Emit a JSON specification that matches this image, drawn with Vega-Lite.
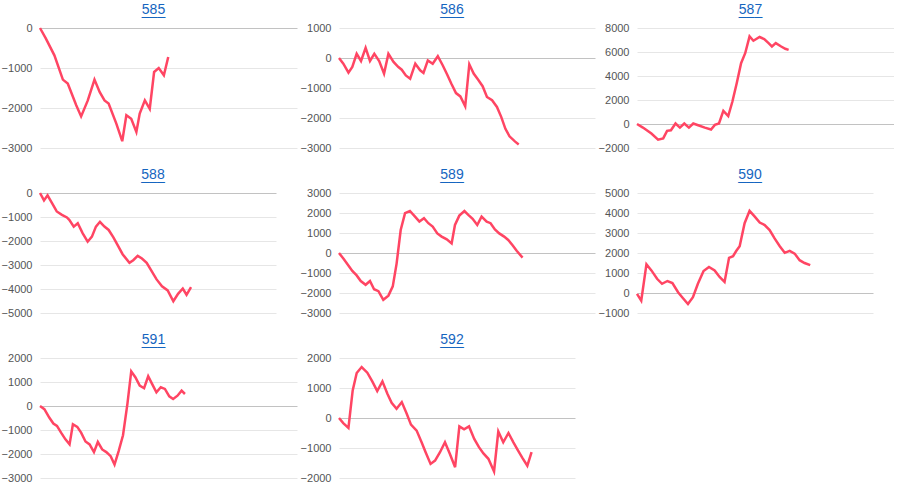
{
"$schema": "https://vega.github.io/schema/vega-lite/v6.json",
"padding": {"left": 1, "top": 3, "right": 0, "bottom": 0},
"background": "#ffffff",
"data": {"values": [
{"p":"585","t":0,"v":0},{"p":"585","t":2.3,"v":-267},{"p":"585","t":5.6,"v":-683},{"p":"585","t":8.9,"v":-1290},{"p":"585","t":10.8,"v":-1390},{"p":"585","t":14.1,"v":-1930},{"p":"585","t":16.0,"v":-2210},{"p":"585","t":18.6,"v":-1810},{"p":"585","t":21.2,"v":-1290},{"p":"585","t":23.2,"v":-1600},{"p":"585","t":25.1,"v":-1810},{"p":"585","t":26.7,"v":-1890},{"p":"585","t":29.7,"v":-2390},{"p":"585","t":32.0,"v":-2830},{"p":"585","t":33.6,"v":-2180},{"p":"585","t":35.5,"v":-2270},{"p":"585","t":37.5,"v":-2600},{"p":"585","t":38.8,"v":-2140},{"p":"585","t":40.8,"v":-1810},{"p":"585","t":42.7,"v":-2020},{"p":"585","t":44.4,"v":-1100},{"p":"585","t":46.2,"v":-1000},{"p":"585","t":48.2,"v":-1180},{"p":"585","t":49.9,"v":-725},
{"p":"586","t":0,"v":0},{"p":"586","t":1.7,"v":-190},{"p":"586","t":3.7,"v":-490},{"p":"586","t":5.2,"v":-300},{"p":"586","t":6.9,"v":140},{"p":"586","t":8.6,"v":-100},{"p":"586","t":10.4,"v":340},{"p":"586","t":12.1,"v":-100},{"p":"586","t":13.8,"v":140},{"p":"586","t":15.7,"v":-100},{"p":"586","t":17.6,"v":-520},{"p":"586","t":19.3,"v":140},{"p":"586","t":21.3,"v":-130},{"p":"586","t":23.2,"v":-300},{"p":"586","t":24.5,"v":-390},{"p":"586","t":26.1,"v":-580},{"p":"586","t":27.8,"v":-690},{"p":"586","t":29.8,"v":-190},{"p":"586","t":31.7,"v":-410},{"p":"586","t":33.0,"v":-500},{"p":"586","t":34.7,"v":-80},{"p":"586","t":36.6,"v":-190},{"p":"586","t":38.6,"v":60},{"p":"586","t":40.5,"v":-240},{"p":"586","t":42.2,"v":-540},{"p":"586","t":43.9,"v":-860},{"p":"586","t":45.7,"v":-1170},{"p":"586","t":47.4,"v":-1280},{"p":"586","t":49.3,"v":-1610},{"p":"586","t":50.9,"v":-210},{"p":"586","t":52.6,"v":-520},{"p":"586","t":54.3,"v":-720},{"p":"586","t":56.1,"v":-940},{"p":"586","t":57.8,"v":-1300},{"p":"586","t":59.8,"v":-1410},{"p":"586","t":61.7,"v":-1630},{"p":"586","t":63.4,"v":-1970},{"p":"586","t":65.0,"v":-2360},{"p":"586","t":66.6,"v":-2610},{"p":"586","t":68.7,"v":-2780},{"p":"586","t":70.2,"v":-2880},
{"p":"587","t":0,"v":0},{"p":"587","t":2.3,"v":-300},{"p":"587","t":5.6,"v":-800},{"p":"587","t":8.2,"v":-1300},{"p":"587","t":10.2,"v":-1200},{"p":"587","t":11.7,"v":-570},{"p":"587","t":13.2,"v":-520},{"p":"587","t":15.0,"v":40},{"p":"587","t":16.7,"v":-300},{"p":"587","t":18.4,"v":40},{"p":"587","t":20.2,"v":-300},{"p":"587","t":21.9,"v":40},{"p":"587","t":23.8,"v":-100},{"p":"587","t":26.4,"v":-300},{"p":"587","t":28.8,"v":-460},{"p":"587","t":30.3,"v":-70},{"p":"587","t":31.9,"v":40},{"p":"587","t":33.6,"v":1100},{"p":"587","t":35.5,"v":660},{"p":"587","t":37.1,"v":1850},{"p":"587","t":38.8,"v":3390},{"p":"587","t":40.5,"v":5070},{"p":"587","t":42.1,"v":5900},{"p":"587","t":43.8,"v":7300},{"p":"587","t":45.3,"v":6940},{"p":"587","t":47.7,"v":7250},{"p":"587","t":49.5,"v":7080},{"p":"587","t":51.2,"v":6740},{"p":"587","t":52.5,"v":6460},{"p":"587","t":54.0,"v":6740},{"p":"587","t":56.1,"v":6460},{"p":"587","t":57.7,"v":6270},{"p":"587","t":59.0,"v":6180},
{"p":"588","t":0,"v":0},{"p":"588","t":1.7,"v":-310},{"p":"588","t":3.2,"v":-100},{"p":"588","t":5.1,"v":-420},{"p":"588","t":7.1,"v":-770},{"p":"588","t":9.3,"v":-910},{"p":"588","t":11.4,"v":-1020},{"p":"588","t":12.4,"v":-1120},{"p":"588","t":14.3,"v":-1400},{"p":"588","t":16.0,"v":-1260},{"p":"588","t":18.1,"v":-1680},{"p":"588","t":20.2,"v":-2030},{"p":"588","t":22.0,"v":-1820},{"p":"588","t":23.7,"v":-1400},{"p":"588","t":25.4,"v":-1200},{"p":"588","t":27.3,"v":-1400},{"p":"588","t":29.1,"v":-1540},{"p":"588","t":31.1,"v":-1850},{"p":"588","t":32.9,"v":-2170},{"p":"588","t":35.0,"v":-2550},{"p":"588","t":37.9,"v":-2910},{"p":"588","t":39.5,"v":-2800},{"p":"588","t":41.4,"v":-2620},{"p":"588","t":43.2,"v":-2730},{"p":"588","t":45.2,"v":-2910},{"p":"588","t":47.5,"v":-3290},{"p":"588","t":49.4,"v":-3600},{"p":"588","t":51.7,"v":-3890},{"p":"588","t":54.1,"v":-4060},{"p":"588","t":56.5,"v":-4510},{"p":"588","t":58.5,"v":-4200},{"p":"588","t":60.5,"v":-3980},{"p":"588","t":62.1,"v":-4240},{"p":"588","t":64.0,"v":-3920},
{"p":"589","t":0,"v":0},{"p":"589","t":1.7,"v":-280},{"p":"589","t":3.6,"v":-610},{"p":"589","t":5.2,"v":-900},{"p":"589","t":6.9,"v":-1120},{"p":"589","t":8.5,"v":-1400},{"p":"589","t":10.4,"v":-1590},{"p":"589","t":12.1,"v":-1400},{"p":"589","t":13.7,"v":-1810},{"p":"589","t":15.4,"v":-1910},{"p":"589","t":17.3,"v":-2340},{"p":"589","t":19.3,"v":-2130},{"p":"589","t":21.0,"v":-1670},{"p":"589","t":22.5,"v":-530},{"p":"589","t":24.1,"v":1150},{"p":"589","t":25.8,"v":1990},{"p":"589","t":27.7,"v":2100},{"p":"589","t":29.7,"v":1820},{"p":"589","t":31.4,"v":1570},{"p":"589","t":33.2,"v":1740},{"p":"589","t":34.9,"v":1490},{"p":"589","t":36.6,"v":1320},{"p":"589","t":38.4,"v":980},{"p":"589","t":40.1,"v":820},{"p":"589","t":42.1,"v":680},{"p":"589","t":44.0,"v":480},{"p":"589","t":45.3,"v":1400},{"p":"589","t":47.0,"v":1870},{"p":"589","t":49.0,"v":2100},{"p":"589","t":50.5,"v":1910},{"p":"589","t":52.2,"v":1710},{"p":"589","t":54.0,"v":1400},{"p":"589","t":55.7,"v":1820},{"p":"589","t":57.7,"v":1570},{"p":"589","t":59.2,"v":1490},{"p":"589","t":60.9,"v":1180},{"p":"589","t":62.6,"v":980},{"p":"589","t":64.5,"v":820},{"p":"589","t":66.1,"v":650},{"p":"589","t":67.8,"v":390},{"p":"589","t":69.4,"v":110},{"p":"589","t":71.7,"v":-230},
{"p":"590","t":0,"v":-40},{"p":"590","t":1.8,"v":-380},{"p":"590","t":4.0,"v":1440},{"p":"590","t":6.1,"v":1130},{"p":"590","t":8.5,"v":710},{"p":"590","t":10.6,"v":460},{"p":"590","t":12.9,"v":600},{"p":"590","t":15.0,"v":500},{"p":"590","t":17.4,"v":40},{"p":"590","t":19.5,"v":-260},{"p":"590","t":21.6,"v":-550},{"p":"590","t":23.7,"v":-210},{"p":"590","t":25.8,"v":460},{"p":"590","t":28.2,"v":1100},{"p":"590","t":30.5,"v":1300},{"p":"590","t":32.9,"v":1130},{"p":"590","t":35.0,"v":800},{"p":"590","t":37.1,"v":550},{"p":"590","t":39.0,"v":1760},{"p":"590","t":40.7,"v":1840},{"p":"590","t":42.1,"v":2110},{"p":"590","t":43.5,"v":2340},{"p":"590","t":45.6,"v":3490},{"p":"590","t":47.7,"v":4110},{"p":"590","t":49.9,"v":3820},{"p":"590","t":52.0,"v":3520},{"p":"590","t":54.1,"v":3400},{"p":"590","t":56.2,"v":3150},{"p":"590","t":58.3,"v":2730},{"p":"590","t":60.5,"v":2340},{"p":"590","t":62.6,"v":2010},{"p":"590","t":64.7,"v":2110},{"p":"590","t":66.8,"v":1970},{"p":"590","t":68.9,"v":1640},{"p":"590","t":71.0,"v":1500},{"p":"590","t":73.4,"v":1390},
{"p":"591","t":0,"v":0},{"p":"591","t":1.7,"v":-130},{"p":"591","t":3.6,"v":-480},{"p":"591","t":5.2,"v":-730},{"p":"591","t":6.6,"v":-830},{"p":"591","t":8.2,"v":-1110},{"p":"591","t":9.9,"v":-1390},{"p":"591","t":11.5,"v":-1600},{"p":"591","t":12.8,"v":-760},{"p":"591","t":14.5,"v":-870},{"p":"591","t":16.0,"v":-1110},{"p":"591","t":17.7,"v":-1480},{"p":"591","t":19.3,"v":-1600},{"p":"591","t":21.0,"v":-1920},{"p":"591","t":22.5,"v":-1500},{"p":"591","t":24.2,"v":-1810},{"p":"591","t":25.8,"v":-1920},{"p":"591","t":27.5,"v":-2090},{"p":"591","t":29.0,"v":-2440},{"p":"591","t":30.6,"v":-1880},{"p":"591","t":32.3,"v":-1220},{"p":"591","t":34.0,"v":80},{"p":"591","t":35.5,"v":1440},{"p":"591","t":37.1,"v":1200},{"p":"591","t":38.8,"v":850},{"p":"591","t":40.5,"v":740},{"p":"591","t":42.1,"v":1240},{"p":"591","t":43.6,"v":920},{"p":"591","t":45.3,"v":570},{"p":"591","t":47.0,"v":780},{"p":"591","t":48.6,"v":710},{"p":"591","t":50.3,"v":400},{"p":"591","t":51.8,"v":290},{"p":"591","t":53.5,"v":430},{"p":"591","t":55.1,"v":640},{"p":"591","t":56.4,"v":500},
{"p":"592","t":0,"v":0},{"p":"592","t":1.8,"v":-170},{"p":"592","t":4.0,"v":-330},{"p":"592","t":5.8,"v":920},{"p":"592","t":7.5,"v":1500},{"p":"592","t":9.6,"v":1700},{"p":"592","t":12.0,"v":1510},{"p":"592","t":14.1,"v":1220},{"p":"592","t":16.2,"v":900},{"p":"592","t":18.4,"v":1220},{"p":"592","t":20.5,"v":810},{"p":"592","t":22.3,"v":510},{"p":"592","t":24.4,"v":310},{"p":"592","t":26.6,"v":530},{"p":"592","t":28.7,"v":140},{"p":"592","t":30.5,"v":-220},{"p":"592","t":32.9,"v":-420},{"p":"592","t":35.0,"v":-810},{"p":"592","t":36.7,"v":-1140},{"p":"592","t":38.8,"v":-1530},{"p":"592","t":40.7,"v":-1420},{"p":"592","t":42.8,"v":-1140},{"p":"592","t":44.9,"v":-810},{"p":"592","t":47.0,"v":-1200},{"p":"592","t":49.2,"v":-1640},{"p":"592","t":51.0,"v":-280},{"p":"592","t":53.0,"v":-380},{"p":"592","t":55.1,"v":-280},{"p":"592","t":57.3,"v":-700},{"p":"592","t":59.3,"v":-970},{"p":"592","t":61.2,"v":-1180},{"p":"592","t":63.3,"v":-1360},{"p":"592","t":65.7,"v":-1780},{"p":"592","t":67.5,"v":-450},{"p":"592","t":69.6,"v":-810},{"p":"592","t":71.8,"v":-500},{"p":"592","t":73.9,"v":-810},{"p":"592","t":75.7,"v":-1060},{"p":"592","t":77.7,"v":-1330},{"p":"592","t":79.8,"v":-1590},{"p":"592","t":81.6,"v":-1140}
]},
"config": {
"view": {"stroke": null},
"font": "Liberation Sans",
"axisY": {"grid": true, "gridColor": "#e6e6e6", "domain": false, "ticks": false, "labelPadding": 8, "labelColor": "#555555", "labelFontSize": 11, "labelFont": "Liberation Sans", "format": "d"},
"title": {"fontSize": 14, "fontWeight": "normal", "color": "#1565c0", "font": "Liberation Sans", "anchor": "middle", "offset": 0, "subtitleFontSize": 14, "subtitleColor": "#1565c0", "subtitleFont": "Liberation Sans", "subtitlePadding": -13},
"line": {"color": "#ff4563", "strokeWidth": 2.5}
},
"columns": 3,
"bounds": "flush",
"spacing": {"column": 42, "row": 45},
"concat": [
{"width": 257, "height": 120, "title": {"text": "585", "subtitle": "___", "dx": -15},
"transform": [{"filter": "datum.p == '585'"}], "mark": "line",
"encoding": {"x": {"field": "t", "type": "quantitative", "scale": {"domain": [0, 100]}, "axis": null}, "y": {"field": "v", "type": "quantitative", "scale": {"domain": [-3000, 0], "nice": false}, "axis": {"values": [-3000, -2000, -1000, 0], "title": null, "gridColor": {"condition": {"test": "datum.value === 0", "value": "#c2c2c2"}, "value": "#e6e6e6"}}}}},
{"width": 256, "height": 120, "title": {"text": "586", "subtitle": "___", "dx": -15},
"transform": [{"filter": "datum.p == '586'"}], "mark": "line",
"encoding": {"x": {"field": "t", "type": "quantitative", "scale": {"domain": [0, 100]}, "axis": null}, "y": {"field": "v", "type": "quantitative", "scale": {"domain": [-3000, 1000], "nice": false}, "axis": {"values": [-3000, -2000, -1000, 0, 1000], "title": null, "gridColor": {"condition": {"test": "datum.value === 0", "value": "#c2c2c2"}, "value": "#e6e6e6"}}}}},
{"width": 257, "height": 120, "title": {"text": "587", "subtitle": "___", "dx": -15},
"transform": [{"filter": "datum.p == '587'"}], "mark": "line",
"encoding": {"x": {"field": "t", "type": "quantitative", "scale": {"domain": [0, 100]}, "axis": null}, "y": {"field": "v", "type": "quantitative", "scale": {"domain": [-2000, 8000], "nice": false}, "axis": {"values": [-2000, 0, 2000, 4000, 6000, 8000], "title": null, "gridColor": {"condition": {"test": "datum.value === 0", "value": "#c2c2c2"}, "value": "#e6e6e6"}}}}},
{"width": 236, "height": 120, "title": {"text": "588", "subtitle": "___", "dx": -5},
"transform": [{"filter": "datum.p == '588'"}], "mark": "line",
"encoding": {"x": {"field": "t", "type": "quantitative", "scale": {"domain": [0, 100]}, "axis": null}, "y": {"field": "v", "type": "quantitative", "scale": {"domain": [-5000, 0], "nice": false}, "axis": {"values": [-5000, -4000, -3000, -2000, -1000, 0], "title": null, "gridColor": {"condition": {"test": "datum.value === 0", "value": "#c2c2c2"}, "value": "#e6e6e6"}}}}},
{"width": 256, "height": 120, "title": {"text": "589", "subtitle": "___", "dx": -15},
"transform": [{"filter": "datum.p == '589'"}], "mark": "line",
"encoding": {"x": {"field": "t", "type": "quantitative", "scale": {"domain": [0, 100]}, "axis": null}, "y": {"field": "v", "type": "quantitative", "scale": {"domain": [-3000, 3000], "nice": false}, "axis": {"values": [-3000, -2000, -1000, 0, 1000, 2000, 3000], "title": null, "gridColor": {"condition": {"test": "datum.value === 0", "value": "#c2c2c2"}, "value": "#e6e6e6"}}}}},
{"width": 236, "height": 120, "title": {"text": "590", "subtitle": "___", "dx": -5},
"transform": [{"filter": "datum.p == '590'"}], "mark": "line",
"encoding": {"x": {"field": "t", "type": "quantitative", "scale": {"domain": [0, 100]}, "axis": null}, "y": {"field": "v", "type": "quantitative", "scale": {"domain": [-1000, 5000], "nice": false}, "axis": {"values": [-1000, 0, 1000, 2000, 3000, 4000, 5000], "title": null, "gridColor": {"condition": {"test": "datum.value === 0", "value": "#c2c2c2"}, "value": "#e6e6e6"}}}}},
{"width": 257, "height": 120, "title": {"text": "591", "subtitle": "___", "dx": -15},
"transform": [{"filter": "datum.p == '591'"}], "mark": "line",
"encoding": {"x": {"field": "t", "type": "quantitative", "scale": {"domain": [0, 100]}, "axis": null}, "y": {"field": "v", "type": "quantitative", "scale": {"domain": [-3000, 2000], "nice": false}, "axis": {"values": [-3000, -2000, -1000, 0, 1000, 2000], "title": null, "gridColor": {"condition": {"test": "datum.value === 0", "value": "#c2c2c2"}, "value": "#e6e6e6"}}}}},
{"width": 236, "height": 120, "title": {"text": "592", "subtitle": "___", "dx": -5},
"transform": [{"filter": "datum.p == '592'"}], "mark": "line",
"encoding": {"x": {"field": "t", "type": "quantitative", "scale": {"domain": [0, 100]}, "axis": null}, "y": {"field": "v", "type": "quantitative", "scale": {"domain": [-2000, 2000], "nice": false}, "axis": {"values": [-2000, -1000, 0, 1000, 2000], "title": null, "gridColor": {"condition": {"test": "datum.value === 0", "value": "#c2c2c2"}, "value": "#e6e6e6"}}}}}
]
}
